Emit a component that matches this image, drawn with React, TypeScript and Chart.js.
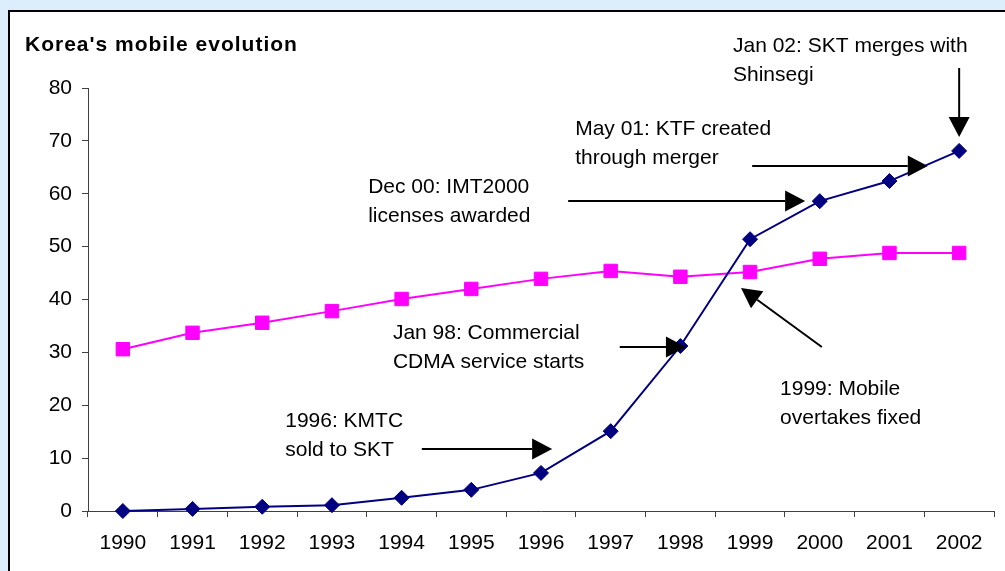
import React, { useEffect, useRef } from 'react';
import { Chart, registerables } from 'chart.js';

Chart.register(...registerables);

const years = ['1990', '1991', '1992', '1993', '1994', '1995', '1996', '1997', '1998', '1999', '2000', '2001', '2002'];
const mobile = [0, 0.4, 0.8, 1.1, 2.5, 4.0, 7.2, 15.1, 31.2, 51.4, 58.6, 62.4, 68.1];
const fixed = [30.6, 33.7, 35.6, 37.8, 40.1, 42.0, 43.9, 45.4, 44.3, 45.2, 47.7, 48.8, 48.8];
const yMin = 0;
const yMax = 80;
const yStep = 10;
const chartTitle = "Korea's mobile evolution";

// annotation text lines, anchored (left, first baseline) in data space: [category index, value]
const noteTexts = [
  ['1996: KMTC', 'sold to SKT'],
  ['Jan 98: Commercial', 'CDMA service starts'],
  ['1999: Mobile', 'overtakes fixed'],
  ['Dec 00: IMT2000', 'licenses awarded'],
  ['May 01: KTF created', 'through merger'],
  ['Jan 02: SKT merges with', 'Shinsegi'],
];
const noteAnchors = [
  [2.33, 15.89],
  [3.875, 32.53],
  [9.43, 21.94],
  [3.52, 60.14],
  [6.49, 71.11],
  [8.755, 86.81],
];
// arrows in data space: from -> to
const arrowFrom = [
  [4.29, 11.73],
  [7.13, 31.02],
  [10.03, 31.02],
  [6.39, 58.63],
  [9.03, 65.25],
  [12.0, 83.78],
];
const arrowTo = [
  [6.16, 11.73],
  [8.08, 31.02],
  [8.87, 42.17],
  [9.79, 58.63],
  [11.55, 65.25],
  [12.0, 70.73],
];

const FONT = '"Liberation Sans", Arial, sans-serif';

const decorPlugin = {
  id: 'decor',
  beforeDraw(chart: any) {
    const ctx = chart.ctx;
    const w = chart.width;
    const h = chart.height;
    ctx.save();
    ctx.fillStyle = '#dcedfc';
    ctx.fillRect(0, 0, w, h);
    ctx.fillStyle = '#ffffff';
    ctx.fillRect(9, 10, w - 9, h - 10);
    ctx.strokeStyle = '#000000';
    ctx.lineWidth = 2;
    ctx.beginPath();
    ctx.moveTo(9, h);
    ctx.lineTo(9, 11);
    ctx.lineTo(w, 11);
    ctx.stroke();
    ctx.fillStyle = '#000000';
    ctx.font = 'bold 21px ' + FONT;
    try { (ctx as any).letterSpacing = '1px'; } catch (e) {}
    ctx.textAlign = 'left';
    ctx.textBaseline = 'alphabetic';
    ctx.fillText(chartTitle, 25, 51);
    try { (ctx as any).letterSpacing = '0px'; } catch (e) {}
    ctx.restore();
  },
  afterDraw(chart: any) {
    const ctx = chart.ctx;
    const xs = chart.scales.x;
    const ys = chart.scales.y;
    const px = (i: number) => {
      const a = xs.getPixelForValue(0);
      const b = xs.getPixelForValue(1);
      return a + (b - a) * i;
    };
    const py = (v: number) => ys.getPixelForValue(v);
    ctx.save();
    ctx.fillStyle = '#000000';
    ctx.font = '21px ' + FONT;
    ctx.textAlign = 'left';
    ctx.textBaseline = 'alphabetic';
    noteTexts.forEach((lines, k) => {
      const x = px(noteAnchors[k][0]);
      const y = py(noteAnchors[k][1]);
      lines.forEach((t, j) => ctx.fillText(t, x, y + j * 29));
    });
    ctx.strokeStyle = '#000000';
    ctx.lineWidth = 2;
    arrowFrom.forEach((f, k) => {
      const x1 = px(f[0]);
      const y1 = py(f[1]);
      const x2 = px(arrowTo[k][0]);
      const y2 = py(arrowTo[k][1]);
      const ang = Math.atan2(y2 - y1, x2 - x1);
      const len = 20;
      const hw = 10.5;
      const bx = x2 - len * Math.cos(ang);
      const by = y2 - len * Math.sin(ang);
      ctx.beginPath();
      ctx.moveTo(x1, y1);
      ctx.lineTo(bx, by);
      ctx.stroke();
      ctx.beginPath();
      ctx.moveTo(x2, y2);
      ctx.lineTo(bx + hw * Math.sin(ang), by - hw * Math.cos(ang));
      ctx.lineTo(bx - hw * Math.sin(ang), by + hw * Math.cos(ang));
      ctx.closePath();
      ctx.fill();
    });
    ctx.restore();
  },
};

export default function App() {
  const ref = useRef<HTMLCanvasElement>(null);
  useEffect(() => {
    if (!ref.current) return;
    const chart = new Chart(ref.current, {
      type: 'line',
      data: {
        labels: years,
        datasets: [
          {
            label: 'Mobile',
            data: mobile,
            borderColor: '#000080',
            backgroundColor: '#000080',
            borderWidth: 2,
            pointStyle: 'rectRot',
            pointRadius: 7.5,
            pointBorderWidth: 1,
            tension: 0,
            clip: false as any,
          },
          {
            label: 'Fixed',
            data: fixed,
            borderColor: '#ff00ff',
            backgroundColor: '#ff00ff',
            borderWidth: 2,
            pointStyle: 'rect',
            pointRadius: 9.5,
            pointBorderWidth: 1,
            tension: 0,
            clip: false as any,
          },
        ],
      },
      options: {
        responsive: false,
        animation: false,
        layout: { padding: { top: 88, right: 11, left: 0, bottom: 0 } },
        plugins: {
          legend: { display: false },
          title: { display: false },
          tooltip: { enabled: false },
        },
        scales: {
          x: {
            offset: true,
            grid: {
              offset: true,
              drawOnChartArea: false,
              drawTicks: true,
              tickLength: 6,
              color: '#404040',
            },
            border: { display: true, color: '#404040', width: 1 },
            ticks: {
              color: '#000000',
              font: { family: FONT, size: 21 },
              padding: 14,
              maxRotation: 0,
              autoSkip: false,
            },
            afterFit: (s: any) => { s.height = 60; },
          },
          y: {
            min: yMin,
            max: yMax,
            grid: {
              drawOnChartArea: false,
              drawTicks: true,
              tickLength: 6,
              color: '#404040',
            },
            border: { display: true, color: '#404040', width: 1 },
            ticks: {
              stepSize: yStep,
              color: '#000000',
              font: { family: FONT, size: 21 },
              padding: 10,
            },
            afterFit: (s: any) => { s.width = 88; },
          },
        },
      },
      plugins: [decorPlugin],
    });
    return () => chart.destroy();
  }, []);
  return (
    <div style={{ position: 'fixed', left: 0, top: 0, width: 1005, height: 571 }}>
      <canvas ref={ref} width={1005} height={571} style={{ display: 'block' }} />
    </div>
  );
}
